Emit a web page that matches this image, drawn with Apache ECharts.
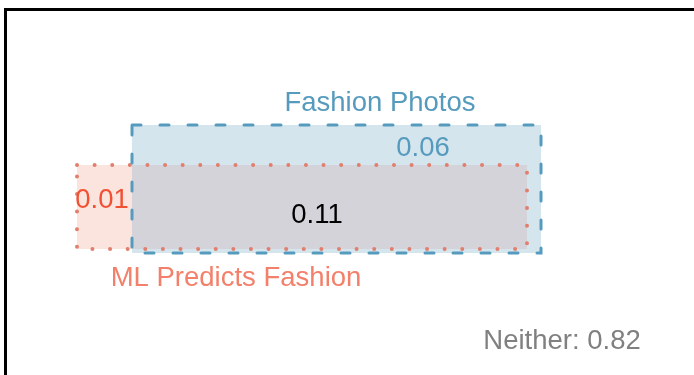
<!DOCTYPE html>
<html>
<head>
<meta charset="utf-8">
<script src="https://cdn.jsdelivr.net/npm/echarts@6/dist/echarts.min.js"></script>
<style>
  html, body { margin: 0; padding: 0; background: #fff; }
  #chart { width: 694px; height: 375px; }
</style>
</head>
<body>
<div id="chart"></div>
<script>
// Region labels and their probabilities
const regionNames = ['Fashion Photos only', 'Both', 'ML Predicts Fashion only', 'Neither'];
const regionValues = [0.06, 0.11, 0.01, 0.82];

// Set names (box titles)
const setNames = ['Fashion Photos', 'ML Predicts Fashion'];

// Box extents in the diagram's own coordinate space (x0, x1, y0, y1)
const boxX0 = [132, 77];
const boxX1 = [541, 527];
const boxY0 = [125, 165];
const boxY1 = [253, 249];

// Label anchor points in the diagram's coordinate space
const setLabelX = [380, 236];
const setLabelY = [101, 276];
const valueLabelX = [423, 317, 102, 562];
const valueLabelY = [146, 213, 198, 339];

const FONT = '"Liberation Sans", Arial, Helvetica, sans-serif';
const BLUE = '#569BBD';
const RED = '#F05133';
const TEXT_DY = 2;

const chart = echarts.init(document.getElementById('chart'), null, { renderer: 'canvas' });

// Overlap box
const ovX0 = Math.max(boxX0[0], boxX0[1]);
const ovX1 = Math.min(boxX1[0], boxX1[1]);
const ovY0 = Math.max(boxY0[0], boxY0[1]);
const ovY1 = Math.min(boxY1[0], boxY1[1]);

const fillData = [
  [boxX0[0], boxY0[0], boxX1[0], boxY1[0], 0],
  [boxX0[1], boxY0[1], boxX1[1], boxY1[1], 1],
  [ovX0, ovY0, ovX1, ovY1, 2]
];
const fillColors = ['#d5e5ee', '#fce4de', '#d3d3d9'];

const strokeData = [
  [boxX0[1], boxY0[1], boxX1[1], boxY1[1], 1],
  [boxX0[0], boxY0[0], boxX1[0], boxY1[0], 0]
];

function rectFromApi(api) {
  const p0 = api.coord([api.value(0), api.value(1)]);
  const p1 = api.coord([api.value(2), api.value(3)]);
  return {
    x: Math.min(p0[0], p1[0]),
    y: Math.min(p0[1], p1[1]),
    width: Math.abs(p1[0] - p0[0]),
    height: Math.abs(p1[1] - p0[1])
  };
}

const setLabelData = setNames.map((n, i) => [setLabelX[i], setLabelY[i], i]);
const setLabelColors = [BLUE, '#F3806A'];
const valueLabelData = regionValues.map((v, i) => [valueLabelX[i], valueLabelY[i], i]);
const valueLabelColors = [BLUE, '#000000', RED, '#808080'];

chart.setOption({
  animation: false,
  backgroundColor: '#ffffff',
  grid: { left: 0, right: 0, top: 0, bottom: 0 },
  xAxis: { type: 'value', min: 0, max: 694, show: false },
  yAxis: { type: 'value', min: 0, max: 375, inverse: true, show: false },
  graphic: [{
    type: 'rect',
    shape: { x: 5.5, y: 9.5, width: 800, height: 500 },
    style: { fill: null, stroke: '#000', lineWidth: 3 },
    z: 100
  }],
  series: [
    {
      type: 'custom',
      coordinateSystem: 'cartesian2d',
      data: fillData,
      z: 1,
      renderItem: function (params, api) {
        return {
          type: 'rect',
          shape: rectFromApi(api),
          style: { fill: fillColors[api.value(4)], stroke: null }
        };
      }
    },
    {
      type: 'custom',
      coordinateSystem: 'cartesian2d',
      data: strokeData,
      z: 2,
      renderItem: function (params, api) {
        const k = api.value(4);
        const style = k === 0
          ? { fill: null, stroke: BLUE, lineWidth: 3, lineDash: [9, 19], lineCap: 'round' }
          : { fill: null, stroke: '#e17f6c', lineWidth: 4, lineDash: [0.01, 17.6], lineCap: 'round' };
        return { type: 'rect', shape: rectFromApi(api), style: style };
      }
    },
    {
      type: 'custom',
      coordinateSystem: 'cartesian2d',
      data: setLabelData,
      z: 3,
      renderItem: function (params, api) {
        const p = api.coord([api.value(0), api.value(1)]);
        const i = api.value(2);
        return {
          type: 'text',
          style: {
            x: p[0], y: p[1] + TEXT_DY,
            text: setNames[i],
            fill: setLabelColors[i],
            font: '27.5px ' + FONT,
            align: 'center',
            verticalAlign: 'middle'
          }
        };
      }
    },
    {
      type: 'custom',
      coordinateSystem: 'cartesian2d',
      data: valueLabelData,
      z: 3,
      renderItem: function (params, api) {
        const p = api.coord([api.value(0), api.value(1)]);
        const i = api.value(2);
        const txt = (i === 3 ? 'Neither: ' : '') + regionValues[i].toFixed(2);
        return {
          type: 'text',
          style: {
            x: p[0], y: p[1] + TEXT_DY,
            text: txt,
            fill: valueLabelColors[i],
            font: '27.5px ' + FONT,
            align: 'center',
            verticalAlign: 'middle'
          }
        };
      }
    }
  ]
});
</script>
</body>
</html>
